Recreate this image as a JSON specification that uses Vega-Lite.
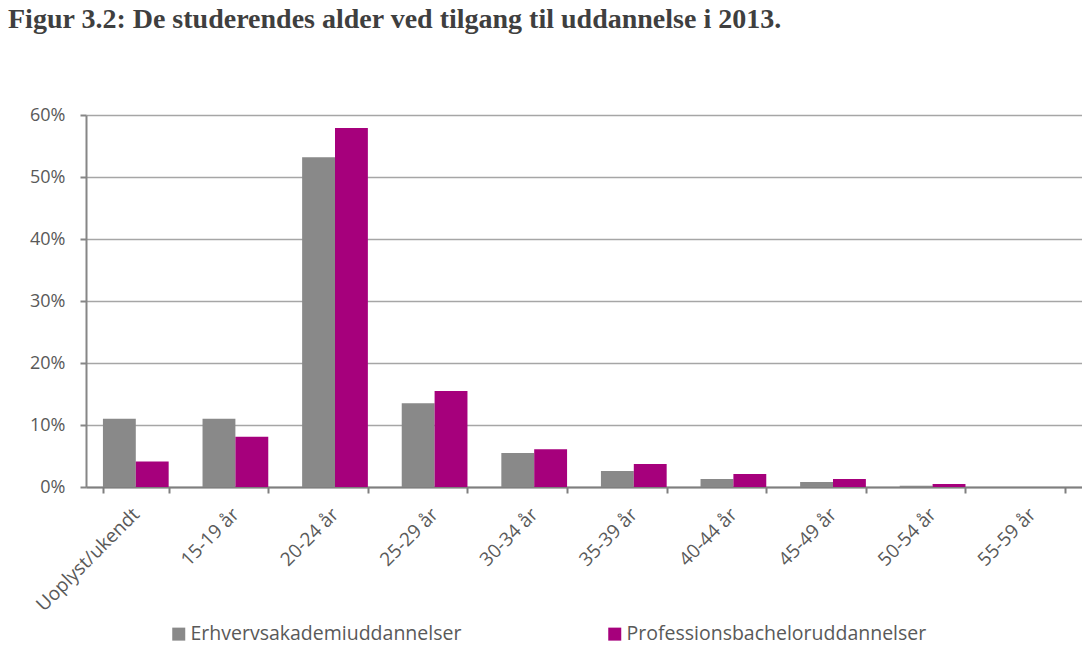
{
  "$schema": "https://vega.github.io/schema/vega-lite/v6.json",
  "autosize": {"type": "none"},
  "width": 996,
  "height": 372,
  "padding": {"left": 86, "top": 115, "right": 0, "bottom": 175},
  "background": "white",
  "title": {
    "text": "Figur 3.2: De studerendes alder ved tilgang til uddannelse i 2013.",
    "anchor": "start",
    "frame": "group",
    "orient": "top",
    "dx": -78,
    "offset": 72,
    "font": "Liberation Serif",
    "fontSize": 28,
    "fontWeight": "bold",
    "color": "#3f3f3f"
  },
  "data": {
    "values": [
      {"alder": "Uoplyst/ukendt", "serie": "Erhvervsakademiuddannelser", "andel": 0.110},
      {"alder": "Uoplyst/ukendt", "serie": "Professionsbacheloruddannelser", "andel": 0.041},
      {"alder": "15-19 år", "serie": "Erhvervsakademiuddannelser", "andel": 0.110},
      {"alder": "15-19 år", "serie": "Professionsbacheloruddannelser", "andel": 0.081},
      {"alder": "20-24 år", "serie": "Erhvervsakademiuddannelser", "andel": 0.532},
      {"alder": "20-24 år", "serie": "Professionsbacheloruddannelser", "andel": 0.579},
      {"alder": "25-29 år", "serie": "Erhvervsakademiuddannelser", "andel": 0.135},
      {"alder": "25-29 år", "serie": "Professionsbacheloruddannelser", "andel": 0.155},
      {"alder": "30-34 år", "serie": "Erhvervsakademiuddannelser", "andel": 0.055},
      {"alder": "30-34 år", "serie": "Professionsbacheloruddannelser", "andel": 0.061},
      {"alder": "35-39 år", "serie": "Erhvervsakademiuddannelser", "andel": 0.026},
      {"alder": "35-39 år", "serie": "Professionsbacheloruddannelser", "andel": 0.037},
      {"alder": "40-44 år", "serie": "Erhvervsakademiuddannelser", "andel": 0.013},
      {"alder": "40-44 år", "serie": "Professionsbacheloruddannelser", "andel": 0.021},
      {"alder": "45-49 år", "serie": "Erhvervsakademiuddannelser", "andel": 0.008},
      {"alder": "45-49 år", "serie": "Professionsbacheloruddannelser", "andel": 0.013},
      {"alder": "50-54 år", "serie": "Erhvervsakademiuddannelser", "andel": 0.002},
      {"alder": "50-54 år", "serie": "Professionsbacheloruddannelser", "andel": 0.005},
      {"alder": "55-59 år", "serie": "Erhvervsakademiuddannelser", "andel": 0.0},
      {"alder": "55-59 år", "serie": "Professionsbacheloruddannelser", "andel": 0.0}
    ]
  },
  "mark": {"type": "bar"},
  "encoding": {
    "x": {
      "field": "alder",
      "type": "nominal",
      "sort": null,
      "scale": {"paddingInner": 0.34, "paddingOuter": 0.17},
      "axis": {
        "title": null,
        "labelAngle": -45,
        "labelAlign": "right",
        "labelBaseline": "middle",
        "labelPadding": 18,
        "labelFont": "Open Sans",
        "labelFontSize": 19,
        "labelColor": "#595959",
        "tickBand": "extent",
        "ticks": true,
        "tickSize": 6,
        "tickColor": "#7f7f7f",
        "tickWidth": 2,
        "domainColor": "#7f7f7f",
        "domainWidth": 2,
        "grid": false
      }
    },
    "xOffset": {"field": "serie", "type": "nominal"},
    "y": {
      "field": "andel",
      "type": "quantitative",
      "scale": {"domain": [0, 0.6], "nice": false},
      "axis": {
        "title": null,
        "values": [0, 0.1, 0.2, 0.3, 0.4, 0.5, 0.6],
        "format": ".0%",
        "labelFont": "Open Sans",
        "labelFontSize": 18,
        "labelColor": "#595959",
        "labelPadding": 15,
        "tickSize": 6,
        "tickColor": "#868686",
        "tickWidth": 2,
        "domainColor": "#868686",
        "domainWidth": 2,
        "grid": true,
        "gridColor": "#a6a6a6",
        "gridWidth": 1.5
      }
    },
    "color": {
      "field": "serie",
      "type": "nominal",
      "scale": {
        "domain": ["Erhvervsakademiuddannelser", "Professionsbacheloruddannelser"],
        "range": ["#898989", "#a6007c"]
      },
      "legend": {
        "title": null,
        "orient": "none",
        "legendX": 83,
        "legendY": 509,
        "direction": "horizontal",
        "columns": 2,
        "columnPadding": 143,
        "symbolType": "square",
        "symbolSize": 169,
        "symbolStrokeWidth": 0,
        "symbolOffset": 0,
        "labelOffset": 2,
        "labelFont": "Open Sans",
        "labelFontSize": 19.5,
        "labelColor": "#595959",
        "labelLimit": 0
      }
    }
  },
  "config": {
    "view": {"stroke": null}
  }
}
